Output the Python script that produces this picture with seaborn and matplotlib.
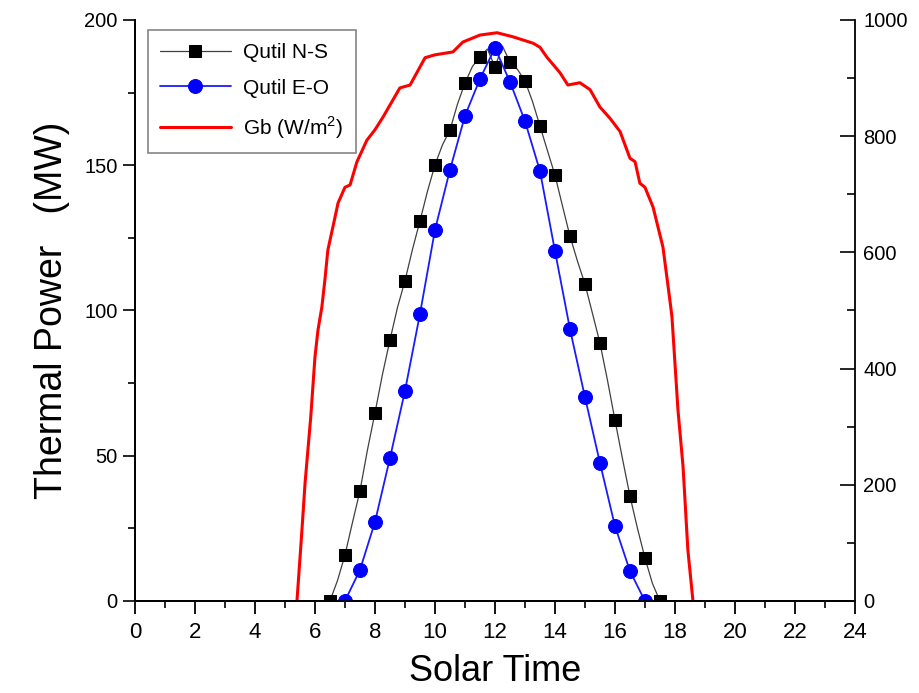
import matplotlib
matplotlib.use('Agg')
import matplotlib.pyplot as plt
from matplotlib.ticker import MultipleLocator
import pandas as pd
import seaborn as sn

sn.set_style('ticks')
plt.rcParams['font.family'] = ['Liberation Sans', 'DejaVu Sans']
plt.rcParams['mathtext.fontset'] = 'custom'
plt.rcParams['mathtext.rm'] = 'Liberation Sans'
for key in ('text.color', 'axes.labelcolor', 'xtick.color', 'ytick.color', 'axes.edgecolor'):
    plt.rcParams[key] = 'black'

# Qutil N-S (MW), line every 0.25 h, markers every 0.5 h
ns_time = [6.5, 6.75, 7.0, 7.25, 7.5, 7.75, 8.0, 8.25, 8.5, 8.75, 9.0, 9.25,
           9.5, 9.75, 10.0, 10.25, 10.5, 10.75, 11.0, 11.25, 11.5, 11.75, 12.0,
           12.25, 12.5, 12.75, 13.0, 13.25, 13.5, 13.75, 14.0, 14.25, 14.5,
           14.75, 15.0, 15.25, 15.5, 15.75, 16.0, 16.25, 16.5, 16.75, 17.0,
           17.25, 17.5]
ns_power = [0, 7, 15.8, 27, 37.9, 52, 64.7, 78, 89.8, 101, 110.2, 121,
            130.8, 141, 150.1, 157, 162.1, 171, 178.3, 184, 187.3, 190, 183.8,
            191, 185.5, 183, 179.0, 172, 163.5, 155, 146.6, 136, 125.6,
            117, 109.1, 99, 88.8, 76, 62.3, 49, 36.1, 25, 14.8,
            6, 0]

# Qutil E-O (MW)
eo_time = [7.0, 7.5, 8.0, 8.5, 9.0, 9.5, 10.0, 10.5, 11.0, 11.5, 12.0,
           12.5, 13.0, 13.5, 14.0, 14.5, 15.0, 15.5, 16.0, 16.5, 17.0]
eo_power = [0, 10.7, 27.2, 49.2, 72.3, 98.8, 127.7, 148.4, 167.0, 179.7, 190.4,
            178.7, 165.2, 148.0, 120.5, 93.6, 70.2, 47.5, 25.8, 10.3, 0]

# Gb (W/m2)
gb_time = [5.4, 5.55, 5.67, 5.86, 6.0, 6.1, 6.23, 6.33, 6.43, 6.67, 6.77, 7.0,
           7.17, 7.4, 7.73, 8.0, 8.27, 8.83, 9.17, 9.67, 10.0, 10.6, 10.93,
           11.5, 12.07, 12.6, 13.27, 13.5, 13.73, 14.17, 14.43, 14.83, 15.17,
           15.5, 15.83, 16.17, 16.5, 16.67, 16.83, 17.0, 17.27, 17.6, 17.83,
           17.9, 18.1, 18.27, 18.43, 18.6]
gb_value = [0, 110, 203, 317, 420, 466, 506, 552, 604, 661, 685, 712,
            716, 756, 793, 811, 833, 883, 888, 935, 940, 945, 962,
            974, 978, 971, 960, 953, 936, 909, 888, 892, 880,
            850, 831, 808, 762, 756, 719, 712, 678, 609, 518,
            489, 329, 231, 88, 0]

fig = plt.figure(figsize=(9.2, 6.93), dpi=100)
ax = fig.add_axes([0.1467, 0.1328, 0.7826, 0.8384])
ax2 = ax.twinx()

ns_df = pd.DataFrame({'t': ns_time, 'p': ns_power})
eo_df = pd.DataFrame({'t': eo_time, 'p': eo_power})
gb_df = pd.DataFrame({'t': gb_time, 'g': gb_value})

sn.lineplot(data=ns_df, x='t', y='p', ax=ax, color='#404040', linewidth=0.9,
            marker='s', markersize=9, markerfacecolor='black',
            markeredgecolor='black', markevery=2, label='Qutil N-S', legend=False)
sn.lineplot(data=eo_df, x='t', y='p', ax=ax, color='#1a1aff', linewidth=1.3,
            marker='o', markersize=10, markerfacecolor='#0000ff',
            markeredgecolor='#0000ff', label='Qutil E-O', legend=False)
sn.lineplot(data=gb_df, x='t', y='g', ax=ax2, color='#ff0000', linewidth=2.2,
            label='Gb (W/m$^2$)', legend=False)

ax.set_xlim(0, 24)
ax.set_ylim(0, 200)
ax2.set_ylim(0, 1000)

ax.xaxis.set_major_locator(MultipleLocator(2))
ax.xaxis.set_minor_locator(MultipleLocator(1))
ax.yaxis.set_major_locator(MultipleLocator(50))
ax.yaxis.set_minor_locator(MultipleLocator(25))
ax2.yaxis.set_major_locator(MultipleLocator(200))
ax2.yaxis.set_minor_locator(MultipleLocator(100))

ax.tick_params(axis='x', which='major', length=9, width=1.3, labelsize=16, pad=6)
ax.tick_params(axis='x', which='minor', length=5, width=1.2)
ax.tick_params(axis='y', which='major', length=9, width=1.2, labelsize=14.5)
ax.tick_params(axis='y', which='minor', length=5, width=1.2)
ax2.tick_params(axis='y', which='major', direction='in', length=11, width=1.2,
                labelsize=14.5, pad=6)
ax2.tick_params(axis='y', which='minor', direction='in', length=6, width=1.2)

for a in (ax, ax2):
    a.spines['top'].set_visible(False)
    for s in ('left', 'right', 'bottom'):
        a.spines[s].set_linewidth(1.3)
ax.spines['right'].set_visible(False)

ax.set_xlabel('Solar Time', fontsize=26, labelpad=8)
ax.set_ylabel('Thermal Power   (MW)', fontsize=27, labelpad=10)
ax2.set_ylabel('')
ax.set_zorder(ax2.get_zorder() + 1)
ax.patch.set_visible(False)

h1, l1 = ax.get_legend_handles_labels()
h2, l2 = ax2.get_legend_handles_labels()
leg = ax.legend(h1 + h2, l1 + l2, loc='upper left', bbox_to_anchor=(0.003, 1.0),
                fontsize=15, handlelength=3.4, handletextpad=0.6, frameon=True,
                fancybox=False, edgecolor='#666666', borderpad=0.6,
                labelspacing=0.8)
leg.get_frame().set_linewidth(1.2)

fig.savefig('out.png', dpi=100)
